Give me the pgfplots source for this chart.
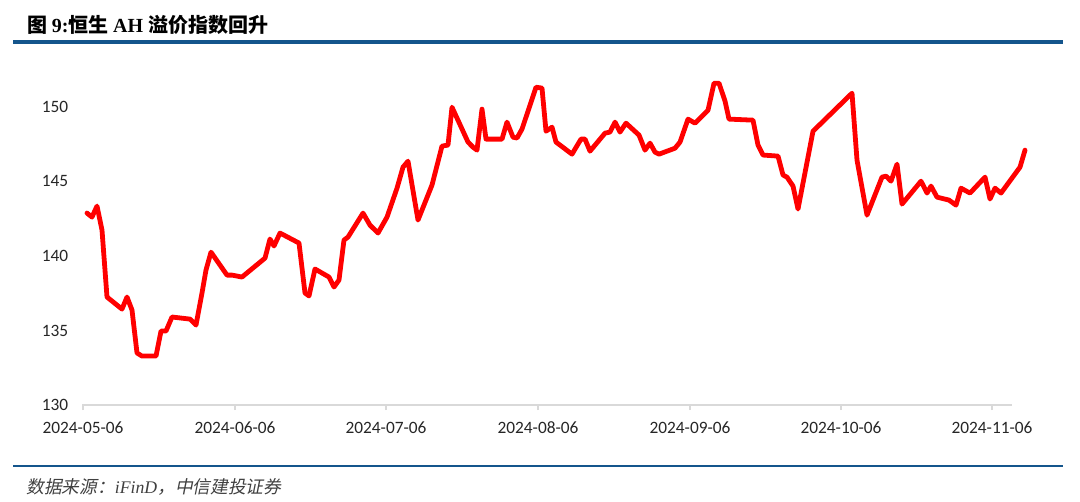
\documentclass[border=0pt]{standalone}
\usepackage{fontspec}
\usepackage{pgfplots}
\pgfplotsset{compat=1.18}
\setmainfont{Carlito}
\newfontfamily\cjk{Noto Sans CJK SC}
\newfontfamily\cjkit[FakeSlant=0.2]{Noto Sans CJK SC}
\newfontfamily\tnr{Liberation Serif}
\definecolor{hdrblue}{RGB}{20,85,140}
\definecolor{axgray}{RGB}{217,217,217}
\definecolor{txt}{RGB}{38,38,38}
\pgfplotstableread{
x y
87 142.87
92 142.60
97 143.34
102 141.73
107 137.24
122 136.43
127 137.24
132 136.37
137 133.49
142 133.28
156 133.28
161 134.96
166 134.96
172 135.90
190 135.76
196 135.36
202 137.51
206 139.05
211 140.25
227 138.71
232 138.71
242 138.58
265 139.85
270 141.13
274 140.66
280 141.53
299 140.86
305 137.51
309 137.31
315 139.12
329 138.58
334 137.91
339 138.38
344 141.06
348 141.26
363 142.87
370 142.06
378 141.53
387 142.60
397 144.54
403 145.95
408 146.35
418 142.40
432 144.75
442 147.36
448 147.43
452 149.97
468 147.63
473 147.29
477 147.09
482 149.84
486 147.83
502 147.83
507 148.97
513 147.96
517 147.90
522 148.50
536 151.31
542 151.25
546 148.36
552 148.63
556 147.63
572 146.82
581 147.83
585 147.83
590 147.02
605 148.23
610 148.30
615 148.97
620 148.30
626 148.90
639 148.10
645 147.09
650 147.56
655 146.96
659 146.82
675 147.22
680 147.63
688 149.17
695 148.90
708 149.77
714 151.58
719 151.58
725 150.38
729 149.17
753 149.10
758 147.43
763 146.76
778 146.69
783 145.42
787 145.28
793 144.68
798 143.14
813 148.36
852 150.91
857 146.42
867 142.73
882 145.28
886 145.35
891 145.01
897 146.15
902 143.47
921 145.01
927 144.21
931 144.68
937 143.94
949 143.74
956 143.40
961 144.54
970 144.21
985 145.28
990 143.81
995 144.54
1001 144.21
1020 145.95
1025 147.09
}\ahdata
\begin{document}
\begin{tikzpicture}
\path[use as bounding box] (0,0) rectangle (810pt,-376.5pt);
% title
\node[anchor=west, inner sep=0pt, text=black, font=\fontsize{15pt}{17pt}\selectfont] at (20.25pt,-18.75pt)
  {{\cjk\bfseries 图 }{\tnr\bfseries 9:}{\cjk\bfseries 恒生 }{\tnr\bfseries AH }{\cjk\bfseries 溢价指数回升}};
\draw[hdrblue, line width=2.4pt] (9.75pt,-31.5pt) -- (797.25pt,-31.5pt);
\draw[hdrblue, line width=2pt] (9.75pt,-349.5pt) -- (797.25pt,-349.5pt);
\node[anchor=west, inner sep=0pt, text=black!75, font=\fontsize{13.3pt}{15pt}\selectfont] at (19.5pt,-365.25pt)
  {{\cjkit 数据来源：}{\tnr\itshape iFinD}{\cjkit ，中信建投证券}};
\begin{axis}[
  at={(61.5pt,-303.75pt)}, anchor=south west,
  scale only axis, width=697.5pt, height=257.25pt,
  xmin=82, xmax=1012, ymin=130, ymax=153,
  axis x line=bottom, axis y line=left,
  x axis line style={draw=axgray, line width=1.1pt, -},
  y axis line style={draw=none},
  ytick={130,135,140,145,150},
  xtick={83,235,386,538,690,841,992},
  xticklabels={2024-05-06,2024-06-06,2024-07-06,2024-08-06,2024-09-06,2024-10-06,2024-11-06},
  xtick style={draw=axgray, line width=1.1pt},
  ytick style={draw=none},
  xtick align=outside,
  major tick length=3.75pt,
  /pgf/number format/assume math mode=true,
  tick label style={text=txt, font=\fontsize{13pt}{15pt}\selectfont},
  yticklabel style={anchor=east, xshift=-5pt},
  xticklabel style={anchor=north, yshift=-5.5pt},
  clip=false,
]
\addplot[red, line width=3.6pt, line join=round, line cap=round] table[x=x,y=y] {\ahdata};
\end{axis}
\end{tikzpicture}
\end{document}
